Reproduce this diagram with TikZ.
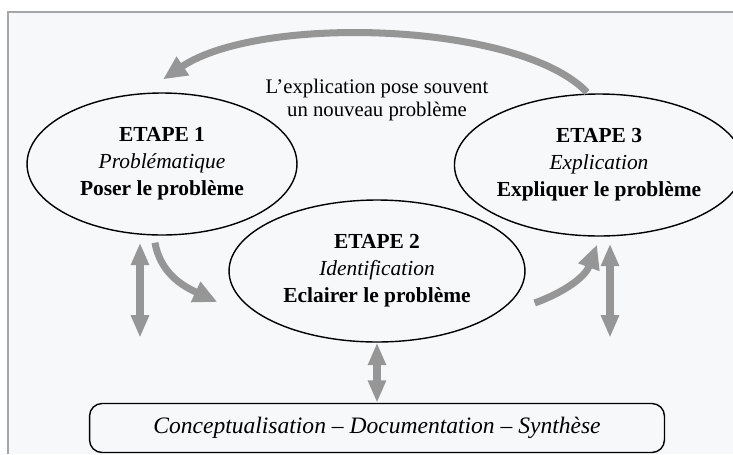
\documentclass[tikz,border=0pt]{standalone}
\usepackage{fontspec}
\setmainfont{Liberation Serif}
\usepackage{tikz}
\usetikzlibrary{shapes.geometric, arrows.meta, calc}
\definecolor{papier}{RGB}{247,248,250}
\definecolor{fleche}{RGB}{150,150,150}

\begin{document}
\begin{tikzpicture}[
  x=0.02cm, y=-0.02cm,
  etape/.style={ellipse, draw=black, line width=0.8pt, minimum height=2.84cm, inner sep=0pt, align=center, font=\fontsize{12.2}{15.4}\selectfont},
  cadre/.style={rectangle, draw=black, line width=0.8pt, rounded corners=0.25cm, minimum width=11.5cm, minimum height=0.98cm, font=\fontsize{13.4}{15}\selectfont\itshape},
  note/.style={align=center, font=\fontsize{11.8}{13.2}\selectfont},
  grosse/.style={draw=fleche, line width=4pt, -{Triangle[width=0.42cm, length=0.48cm]}},
  double_grosse/.style={draw=fleche, line width=4pt, {Triangle[width=0.34cm, length=0.45cm]}-{Triangle[width=0.34cm, length=0.45cm]}}
]
\useasboundingbox (0,0) rectangle (733,454);
\fill[white] (0,0) rectangle (733,454);
\fill[papier] (8,12) rectangle (733,454);
\draw[gray!70, line width=1.5pt] (733,12) -- (8,12) -- (8,454);

% Etapes
\node (e1) [etape, minimum width=5.4cm] at (162,164) {\textbf{ETAPE 1}\\ \textit{Problématique}\\ \textbf{Poser le problème}};
\node (e2) [etape, minimum width=5.92cm] at (377,271) {\textbf{ETAPE 2}\\ \textit{Identification}\\ \textbf{Eclairer le problème}};
\node (e3) [etape, minimum width=5.16cm] at (599,165) {\textbf{ETAPE 3}\\ \textit{Explication}\\ \textbf{Expliquer le problème}};
\node (boucle) [note] at (377,100) {L’explication pose souvent\\ un nouveau problème};

% Synthese
\node (synthese) [cadre] at (377,428) {Conceptualisation -- Documentation -- Synthèse};

% Points libres
\coordinate (haut1) at ($(e1.south)+(-22,7)$);
\coordinate (bas1) at ($(e1.south)+(-22,102)$);
\coordinate (haut3) at ($(e3.south)+(11,7)$);
\coordinate (bas3) at ($(e3.south)+(11,101)$);

% Fleches
\draw [grosse] ($(e3.north)+(-12,-1)$) .. controls (520,22) and (260,14) .. ($(e1.north)+(1,-13)$);
\draw [grosse] ($(e1.south)+(-7,7)$) to[out=-80, in=155] ($(e2.west)+(-11,31)$);
\draw [grosse] ($(e2.east)+(9,32)$) to[out=20, in=-110] ($(e3.south)+(-2,8)$);
\draw [double_grosse] (haut1) -- (bas1);
\draw [double_grosse] (haut3) -- (bas3);
\draw [double_grosse] (e2.south) -- (synthese.north);
\end{tikzpicture}
\end{document}
